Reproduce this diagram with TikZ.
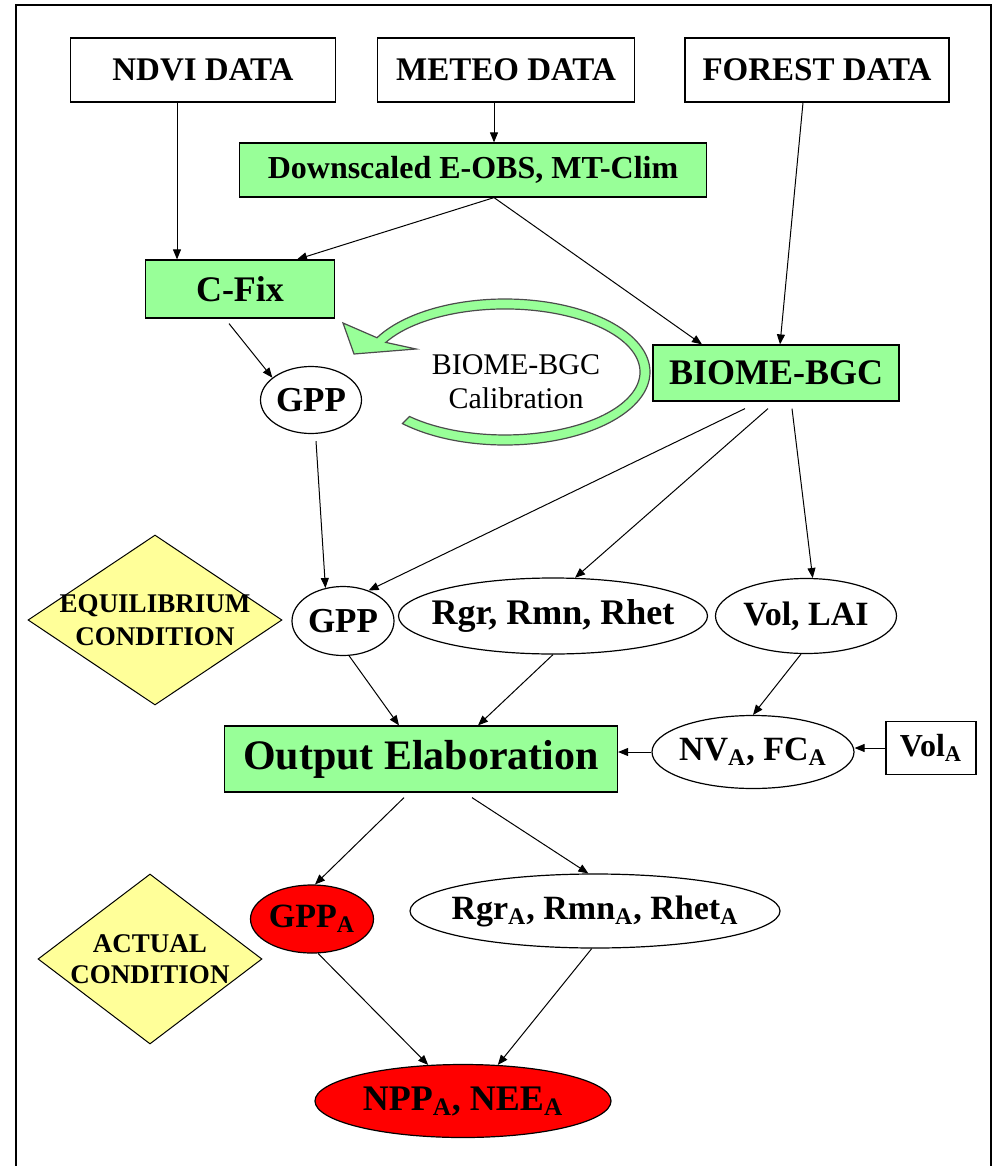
\documentclass[tikz,border=0pt]{standalone}
\usepackage{fontspec}
\setmainfont{Liberation Serif}
\usepackage{tikz}
\usetikzlibrary{arrows.meta,shapes.geometric}

\definecolor{boxgreen}{RGB}{152,255,152}
\definecolor{condyellow}{RGB}{255,255,153}
\newcommand{\nodefont}[2]{\fontsize{#1}{#2}\selectfont\bfseries}

\tikzset{
	datanode/.style={draw, rectangle, fill=white, inner sep=0pt, line width=0.6pt},
	procnode/.style={draw, rectangle, fill=boxgreen, inner sep=0pt, line width=0.6pt},
	varnode/.style={draw, ellipse, fill=white, inner xsep=-12pt, inner ysep=0pt, line width=0.6pt},
	condnode/.style={draw, diamond, fill=condyellow, inner xsep=-15pt, inner ysep=-10pt, align=center, line width=0.5pt},
	arr/.style={-{Triangle[length=5pt,width=4pt]}, line width=0.5pt}
}

\begin{document}
\begin{tikzpicture}[x=0.5pt,y=0.5pt]
		\useasboundingbox (0,0) rectangle (992,-1166);
		\draw[line width=1pt] (16,-1166) -- (16,-5.5) -- (991,-5.5) -- (991,-1166);

		\node[datanode, minimum width=132.5pt, minimum height=32pt, font=\nodefont{16.5}{18}] (ndvi) at (203,-70) {NDVI DATA};
		\node[datanode, minimum width=128.5pt, minimum height=32pt, font=\nodefont{16.5}{18}] (meteo) at (506,-70) {METEO DATA};
		\node[datanode, minimum width=132pt, minimum height=32pt, font=\nodefont{16.5}{18}] (forest) at (817,-70) {FOREST DATA};
		\node[procnode, minimum width=233.5pt, minimum height=27pt, font=\nodefont{16}{18}] (dsc) at (473,-170) {Downscaled E-OBS, MT-Clim};
		\node[procnode, minimum width=94.5pt, minimum height=29pt, font=\nodefont{18}{20}] (cfix) at (240,-289) {C-Fix};
		\node[procnode, minimum width=123pt, minimum height=28pt, font=\nodefont{18}{20}] (biome) at (776,-373) {BIOME-BGC};
		\node[varnode, minimum width=50.5pt, minimum height=33.5pt, font=\nodefont{17.5}{19}] (gpp) at (311,-400) {GPP};

		\filldraw[fill=boxgreen, draw=black!70, line width=0.6pt] (505,-372) ++(225:145 and 73)
			arc[start angle=225, end angle=512, x radius=145, y radius=73]
			-- (343,-323) -- (354,-354) -- (416,-349) -- (385.8,-342.4)
			arc[start angle=152, end angle=-135, x radius=135, y radius=63] -- cycle;
		\node[align=center, font=\fontsize{15}{17}\selectfont] (calib) at (516,-382) {BIOME-BGC\\Calibration};

		\node[condnode, minimum width=127pt, minimum height=85pt, font=\nodefont{13.5}{16.5}] (eqcond) at (155,-620) {EQUILIBRIUM\\CONDITION};
		\node[varnode, minimum width=51pt, minimum height=34.5pt, font=\nodefont{17.5}{19}] (gppeq) at (343,-621) {GPP};
		\node[varnode, minimum width=154.5pt, minimum height=38pt, font=\nodefont{18}{20}] (resp) at (553,-616) {Rgr, Rmn, Rhet};
		\node[varnode, minimum width=90.5pt, minimum height=37.5pt, font=\nodefont{17}{19}] (vol) at (806,-616) {Vol, LAI};
		\node[procnode, minimum width=196.5pt, minimum height=33pt, font=\nodefont{21}{23}] (outel) at (421,-759) {Output Elaboration};
		\node[varnode, minimum width=101pt, minimum height=36.5pt, font=\nodefont{17}{19}] (nvfc) at (753,-752) {NV\textsubscript{A}, FC\textsubscript{A}};
		\node[datanode, minimum width=45pt, minimum height=26.5pt, font=\nodefont{16}{18}] (vola) at (931,-748) {Vol\textsubscript{A}};

		\node[condnode, minimum width=112pt, minimum height=85pt, font=\nodefont{13.5}{15.5}] (actcond) at (150,-959) {ACTUAL\\CONDITION};
		\node[varnode, fill=red, minimum width=61.5pt, minimum height=34pt, font=\nodefont{17}{19}] (gppact) at (312,-919) {GPP\textsubscript{A}};
		\node[varnode, minimum width=185pt, minimum height=37pt, font=\nodefont{17}{19}] (respact) at (595,-911) {Rgr\textsubscript{A}, Rmn\textsubscript{A}, Rhet\textsubscript{A}};
		\node[varnode, fill=red, minimum width=148pt, minimum height=36.5pt, font=\nodefont{18}{20}] (nppnee) at (463,-1101) {NPP\textsubscript{A}, NEE\textsubscript{A}};

		\draw[arr] ([xshift=-13pt]ndvi.south) -- ([xshift=-13pt]ndvi.south |- cfix.north);
		\draw[arr] ([xshift=-6pt]meteo.south) -- ([xshift=-6pt]meteo.south |- dsc.north);
		\draw[arr] ([xshift=10.5pt]dsc.south) -- ([xshift=28.5pt]cfix.north);
		\draw[arr] ([xshift=10.5pt]dsc.south) -- ([xshift=-37pt]biome.north);
		\draw[arr] ([xshift=-7pt]forest.south) -- ([xshift=2pt]biome.north);
		\draw[arr] ([xshift=-5.5pt,yshift=-2.5pt]cfix.south) -- (gpp.150);
		\draw[arr] ([xshift=2.5pt,yshift=-3.5pt]gpp.south) -- (gppeq.118);
		\draw[arr] ([xshift=-15.5pt,yshift=-3.5pt]biome.south) -- (gppeq.50);
		\draw[arr] ([xshift=-4pt,yshift=-3.5pt]biome.south) -- (resp.60);
		\draw[arr] ([xshift=8pt,yshift=-3.5pt]biome.south) -- (vol.80);
		\draw[arr] (gppeq.280) -- ([xshift=-11pt]outel.north);
		\draw[arr] (resp.south) -- ([xshift=28.5pt]outel.north);
		\draw[arr] ([xshift=-2.5pt]vol.south) -- (nvfc.north);
		\draw[arr] (nvfc.west) -- (nvfc.west -| outel.east);
		\draw[arr] (vola.west) -- (vola.west -| nvfc.east);
		\draw[arr] ([xshift=-8.5pt,yshift=-2.5pt]outel.south) -- (gppact.85);
		\draw[arr] ([xshift=25.5pt,yshift=-2.5pt]outel.south) -- (respact.100);
		\draw[arr] (gppact.280) -- (nppnee.134);
		\draw[arr] (respact.265) -- (nppnee.46);
\end{tikzpicture}
\end{document}
